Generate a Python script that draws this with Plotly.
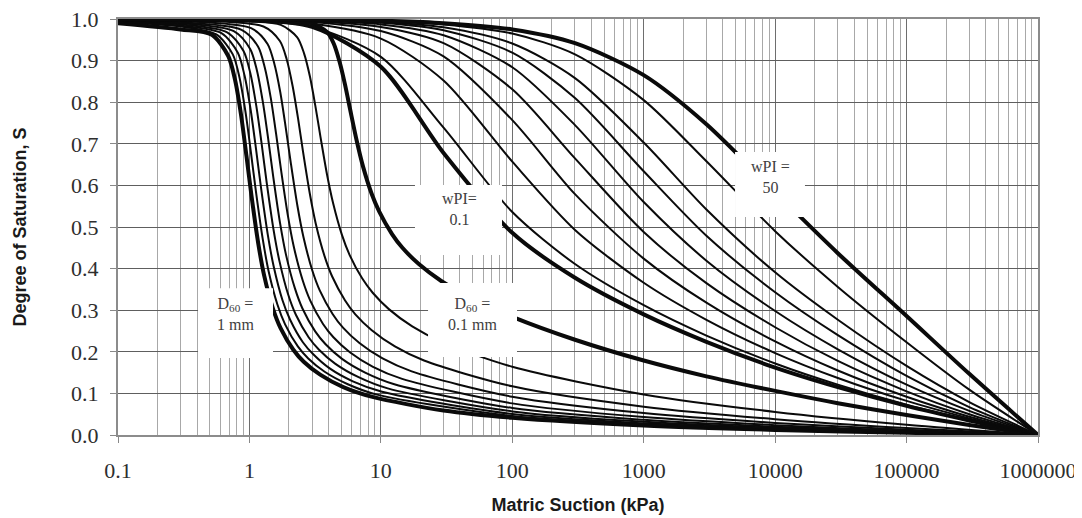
import plotly.graph_objects as go

# ---------------- data ----------------
# granular soils (wPI = 0), labelled by D60 (mm)
d60_1_0_x = [0.1, 0.3, 0.518, 0.690, 0.777, 0.863, 0.949, 1.036, 1.165, 1.295, 1.51, 1.726, 2.158, 2.589, 3.452, 5.178, 8.63, 30, 100, 1000, 1e4, 1e5, 1e6]
d60_1_0_s = [0.990, 0.975, 0.962, 0.911, 0.854, 0.770, 0.671, 0.576, 0.462, 0.383, 0.304, 0.257, 0.205, 0.176, 0.145, 0.115, 0.0915, 0.0588, 0.0415, 0.023, 0.0123, 0.0052, 0]
d60_0_9_x = [0.1, 0.3, 0.560, 0.747, 0.841, 0.934, 1.027, 1.121, 1.261, 1.401, 1.635, 1.868, 2.335, 2.802, 3.736, 5.604, 9.34, 100, 1000, 1e4, 1e5, 1e6]
d60_0_9_s = [0.993, 0.982, 0.963, 0.915, 0.859, 0.776, 0.679, 0.585, 0.472, 0.393, 0.313, 0.266, 0.213, 0.184, 0.152, 0.122, 0.097, 0.0456, 0.0253, 0.0136, 0.0058, 0]
d60_0_8_x = [0.1, 0.3, 0.612, 0.816, 0.918, 1.02, 1.122, 1.224, 1.377, 1.53, 1.785, 2.04, 2.55, 3.06, 4.08, 6.12, 10.2, 100, 1000, 1e4, 1e5, 1e6]
d60_0_8_s = [0.994, 0.984, 0.966, 0.919, 0.864, 0.783, 0.688, 0.595, 0.483, 0.405, 0.324, 0.277, 0.223, 0.194, 0.160, 0.129, 0.104, 0.0505, 0.0281, 0.0152, 0.0064, 0]
d60_0_7_x = [0.1, 0.3, 0.677, 0.902, 1.015, 1.128, 1.241, 1.354, 1.523, 1.692, 1.974, 2.256, 2.82, 3.384, 4.512, 6.768, 11.28, 100, 1000, 1e4, 1e5, 1e6]
d60_0_7_s = [0.996, 0.987, 0.968, 0.923, 0.870, 0.791, 0.698, 0.606, 0.495, 0.418, 0.337, 0.289, 0.235, 0.205, 0.171, 0.139, 0.112, 0.0567, 0.0317, 0.0172, 0.0073, 0]
d60_0_6_x = [0.1, 0.3, 0.760, 1.013, 1.139, 1.266, 1.393, 1.519, 1.709, 1.899, 2.216, 2.532, 3.165, 3.798, 5.064, 7.596, 12.66, 100, 1000, 1e4, 1e5, 1e6]
d60_0_6_s = [0.997, 0.990, 0.971, 0.928, 0.877, 0.800, 0.709, 0.620, 0.510, 0.433, 0.353, 0.304, 0.249, 0.218, 0.183, 0.150, 0.122, 0.0649, 0.0365, 0.0199, 0.0085, 0]
d60_0_5_x = [0.1, 0.3, 0.871, 1.162, 1.307, 1.452, 1.597, 1.742, 1.960, 2.178, 2.541, 2.904, 3.63, 4.356, 5.808, 8.712, 14.52, 100, 1000, 1e4, 1e5, 1e6]
d60_0_5_s = [0.997, 0.992, 0.974, 0.934, 0.884, 0.811, 0.723, 0.636, 0.528, 0.452, 0.372, 0.323, 0.267, 0.235, 0.199, 0.164, 0.135, 0.076, 0.043, 0.0236, 0.0101, 0]
d60_0_4_x = [0.1, 0.3, 1.030, 1.374, 1.545, 1.717, 1.889, 2.060, 2.318, 2.576, 3.005, 3.434, 4.293, 5.151, 6.868, 10.3, 17.17, 100, 1000, 1e4, 1e5, 1e6]
d60_0_4_s = [0.998, 0.995, 0.978, 0.940, 0.893, 0.824, 0.739, 0.656, 0.551, 0.476, 0.396, 0.347, 0.291, 0.258, 0.221, 0.184, 0.153, 0.092, 0.0526, 0.0291, 0.0126, 0]
d60_0_3_x = [0.1, 0.3, 1.279, 1.705, 1.918, 2.131, 2.344, 2.557, 2.877, 3.197, 3.729, 4.262, 5.328, 6.393, 8.524, 12.79, 21.31, 100, 1000, 1e4, 1e5, 1e6]
d60_0_3_s = [0.999, 0.997, 0.982, 0.947, 0.904, 0.839, 0.761, 0.681, 0.581, 0.508, 0.430, 0.381, 0.324, 0.290, 0.252, 0.213, 0.179, 0.117, 0.068, 0.038, 0.0166, 0]
d60_0_2_x = [0.1, 0.3, 1.0, 1.733, 2.311, 2.600, 2.889, 3.178, 3.467, 3.900, 4.334, 5.056, 5.778, 7.223, 8.667, 11.56, 17.33, 28.89, 100, 1000, 1e4, 1e5, 1e6]
d60_0_2_s = [0.999, 0.998, 0.994, 0.986, 0.956, 0.918, 0.861, 0.790, 0.718, 0.625, 0.557, 0.481, 0.433, 0.376, 0.342, 0.302, 0.261, 0.224, 0.164, 0.0976, 0.0555, 0.0246, 0]
d60_0_1_x = [0.1, 1.0, 2.0, 2.917, 3.890, 4.376, 4.862, 5.348, 5.834, 6.564, 7.293, 8.509, 9.724, 12.16, 14.59, 19.45, 29.17, 48.62, 100, 300, 1000, 3000, 1e4, 3e4, 1e5, 3e5, 1e6]
d60_0_1_s = [1.0, 0.998, 0.996, 0.991, 0.969, 0.941, 0.896, 0.841, 0.783, 0.706, 0.647, 0.580, 0.537, 0.483, 0.450, 0.411, 0.369, 0.328, 0.284, 0.229, 0.179, 0.141, 0.106, 0.0765, 0.048, 0.0241, 0]

# plastic soils, labelled by wPI
suction_wpi = [0.1, 1, 3, 10, 30, 100, 300, 1000, 3000, 1e4, 3e4, 1e5, 3e5, 1e6]
wpi_0_1_s = [1.0, 0.997, 0.981, 0.885, 0.678, 0.486, 0.378, 0.290, 0.224, 0.162, 0.115, 0.070, 0.035, 0]
wpi_1_s = [1.0, 0.996, 0.981, 0.909, 0.739, 0.536, 0.411, 0.312, 0.239, 0.172, 0.121, 0.073, 0.036, 0]
wpi_5_s = [1.0, 0.997, 0.989, 0.953, 0.852, 0.657, 0.493, 0.366, 0.277, 0.197, 0.137, 0.082, 0.040, 0]
wpi_10_s = [1.0, 0.998, 0.993, 0.971, 0.910, 0.757, 0.579, 0.424, 0.318, 0.225, 0.155, 0.092, 0.044, 0]
wpi_15_s = [1.0, 0.999, 0.995, 0.981, 0.942, 0.831, 0.665, 0.488, 0.365, 0.259, 0.178, 0.105, 0.050, 0]
wpi_20_s = [1.0, 0.999, 0.996, 0.987, 0.961, 0.884, 0.745, 0.560, 0.419, 0.298, 0.206, 0.121, 0.058, 0]
wpi_25_s = [1.0, 0.999, 0.997, 0.991, 0.973, 0.919, 0.810, 0.634, 0.479, 0.343, 0.240, 0.142, 0.067, 0]
wpi_30_s = [1.0, 0.999, 0.998, 0.993, 0.980, 0.941, 0.858, 0.703, 0.542, 0.391, 0.277, 0.166, 0.079, 0]
wpi_40_s = [1.0, 0.999, 0.998, 0.995, 0.987, 0.965, 0.915, 0.805, 0.658, 0.490, 0.356, 0.223, 0.109, 0]
wpi_50_s = [1.0, 1.0, 0.999, 0.996, 0.990, 0.975, 0.942, 0.865, 0.747, 0.584, 0.437, 0.286, 0.147, 0]

x_tick_vals = [0.1, 1, 10, 100, 1000, 10000, 100000, 1000000]
x_tick_text = ["0.1", "1", "10", "100", "1000", "10000", "100000", "1000000"]

# label texts
label_d60_1 = "D<sub>60</sub> =<br>1 mm"
label_wpi_01 = "wPI=<br>0.1"
label_d60_01 = "D<sub>60</sub> =<br>0.1 mm"
label_wpi_50 = "wPI =<br>50"

# ---------------- figure ----------------
THIN, THICK = 2.0, 4.0
curves = [
    (d60_1_0_x, d60_1_0_s, THICK), (d60_0_9_x, d60_0_9_s, THIN), (d60_0_8_x, d60_0_8_s, THIN),
    (d60_0_7_x, d60_0_7_s, THIN), (d60_0_6_x, d60_0_6_s, THIN), (d60_0_5_x, d60_0_5_s, THIN),
    (d60_0_4_x, d60_0_4_s, THIN), (d60_0_3_x, d60_0_3_s, THIN), (d60_0_2_x, d60_0_2_s, THIN),
    (d60_0_1_x, d60_0_1_s, THICK),
    (suction_wpi, wpi_0_1_s, THICK), (suction_wpi, wpi_1_s, THIN), (suction_wpi, wpi_5_s, THIN),
    (suction_wpi, wpi_10_s, THIN), (suction_wpi, wpi_15_s, THIN), (suction_wpi, wpi_20_s, THIN),
    (suction_wpi, wpi_25_s, THIN), (suction_wpi, wpi_30_s, THIN), (suction_wpi, wpi_40_s, THIN),
    (suction_wpi, wpi_50_s, THICK),
]

fig = go.Figure()
for xs, ys, w in curves:
    fig.add_trace(go.Scatter(x=xs, y=ys, mode="lines",
                             line=dict(color="#0a0a0a", width=w, shape="spline", smoothing=0.8),
                             hoverinfo="skip"))

tick_font = dict(family="Liberation Serif", size=22, color="#2e2e2e")
title_font = dict(family="Liberation Sans", size=18, color="#1a1a1a", weight="bold")

fig.update_xaxes(type="log", range=[-1, 6], tickvals=x_tick_vals, ticktext=x_tick_text,
                 automargin=False, ticklabeloverflow="allow",
                 ticks="outside", ticklen=6, tickcolor="#888888", tickwidth=1,
                 showline=True, linecolor="#8c8c8c", linewidth=2, mirror=True,
                 showgrid=True, gridcolor="#6e6e6e", gridwidth=1,
                 minor=dict(dtick="D1", showgrid=True, gridcolor="#a8a8a8", gridwidth=1, ticks=""),
                 tickfont=tick_font, ticklabelstandoff=9,
                 title=dict(text="Matric Suction (kPa)", font=title_font, standoff=16))
fig.update_yaxes(range=[0, 1], dtick=0.1, tickformat=".1f",
                 automargin=False, ticklabeloverflow="allow",
                 ticks="outside", ticklen=6, tickcolor="#888888", tickwidth=1,
                 showline=True, linecolor="#8c8c8c", linewidth=2, mirror=True,
                 showgrid=True, gridcolor="#5e5e5e", gridwidth=1, zeroline=False,
                 tickfont=tick_font, ticklabelstandoff=7,
                 title=dict(text="Degree of Saturation, S", font=title_font, standoff=40))

# white label boxes (paper coordinates of the plot area) and their texts
ann_font = dict(family="Liberation Serif", size=16, color="#404040")
boxes = [
    # text, box x0, x1, y0, y1, text x, text y
    (label_d60_1, 0.087, 0.1685, 0.185, 0.353, 0.128, 0.290),
    (label_wpi_01, 0.3228, 0.4174, 0.4327, 0.601, 0.3717, 0.543),
    (label_d60_01, 0.337, 0.4337, 0.1875, 0.3654, 0.3848, 0.292),
    (label_wpi_50, 0.6707, 0.7467, 0.524, 0.680, 0.7087, 0.619),
]
for txt, x0, x1, y0, y1, tx, ty in boxes:
    fig.add_shape(type="rect", xref="paper", yref="paper", x0=x0, x1=x1, y0=y0, y1=y1,
                  fillcolor="white", line=dict(width=0), layer="above")
    fig.add_annotation(text=txt, x=tx, y=ty, xref="paper", yref="paper", showarrow=False,
                       xanchor="center", yanchor="middle", font=ann_font, align="center")

# the page body adds an 8 px offset, so the margins are set 8 px smaller
fig.update_layout(width=1074, height=510, margin=dict(l=110, r=44, t=11, b=83, autoexpand=False),
                  plot_bgcolor="white", paper_bgcolor="white", showlegend=False)

fig.write_html("out.html")
